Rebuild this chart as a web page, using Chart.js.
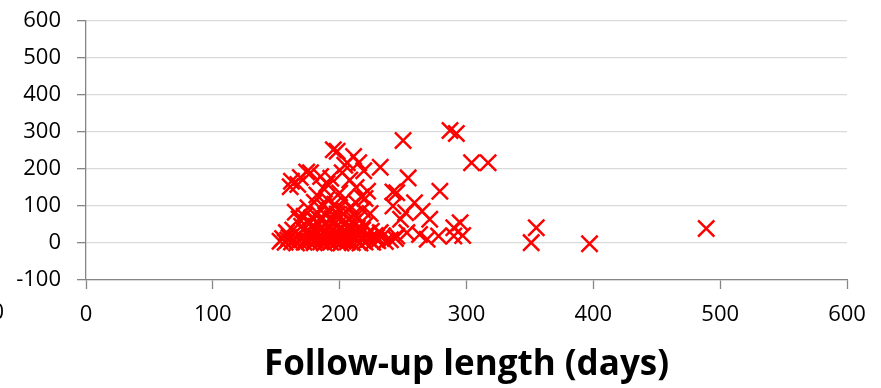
<!DOCTYPE html>
<html>
<head>
<meta charset="utf-8">
<script src="https://cdn.jsdelivr.net/npm/chart.js@4.4.1/dist/chart.umd.min.js"></script>
<style>
  html, body { margin: 0; padding: 0; background: #ffffff; }
  #wrap { width: 881px; height: 388px; position: relative; }
</style>
</head>
<body>
<div id="wrap"><canvas id="c" width="881" height="388"></canvas></div>
<script>
// Follow-up length (days) vs value
const followUpDays = [
  // near baseline
  153,155,157,159,160,162,164,166,168,170,172,174,176,178,180,181,183,185,186,188,190,191,193,195,196,198,200,201,203,205,206,208,210,212,214,216,218,220,223,226,230,236,240,244,
  // 20-60
  158,163,167,170,173,176,178,180,182,184,186,188,189,191,192,194,195,197,198,200,201,203,204,206,207,209,211,212,214,216,218,220,222,225,228,232,
  // 60-120
  165,168,172,175,178,180,183,185,187,189,190,192,194,196,198,199,201,203,205,207,209,211,213,215,218,220,224,
  // 120-260
  161,162,167,169,174,177,185,182,188,190,193,195,198,200,202,204,206,208,211,213,215,217,219,222,232,242,245,
  // right group
  250,287,292,304,317,279,254,259,265,252,295,290,271,278,290,263,269,253,245,234,229,248,242,297,
  // far right
  355,351,397,489
];
const outcomeValues = [
  5,12,2,8,15,3,10,0,6,14,2,9,4,12,1,7,15,3,10,0,6,13,2,8,16,4,11,0,7,14,3,9,1,12,5,0,8,3,10,2,6,4,9,12,
  28,35,22,45,30,52,25,38,58,20,42,30,55,24,40,33,60,27,46,36,22,50,30,44,25,38,55,28,40,22,35,48,26,32,20,28,
  83,65,72,95,68,110,80,62,100,75,118,88,66,105,78,92,70,115,85,64,98,76,108,68,90,120,80,
  152,167,158,177,192,190,180,130,145,160,175,252,248,135,190,210,217,170,234,150,217,125,195,140,205,138,136,
  277,304,296,217,217,140,176,109,86,82,55,41,64,19,19,23,10,28,19,19,15,64,100,20,
  41,1,-2,39
];
const xTicks = [0,100,200,300,400,500,600];
const yTicks = [-100,0,100,200,300,400,500,600];

const points = followUpDays.map((d, i) => ({ x: d, y: outcomeValues[i] }));

const tickFont = { family: "'Open Sans', sans-serif", size: 22 };

const edgeText = {
  id: 'edgeText',
  afterDraw(chart) {
    const ctx = chart.ctx;
    ctx.save();
    ctx.font = "22px 'Open Sans', sans-serif";
    ctx.fillStyle = '#000';
    ctx.textAlign = 'right';
    ctx.textBaseline = 'middle';
    ctx.fillText('0', 4, 313);
    ctx.restore();
  }
};

new Chart(document.getElementById('c'), {
  type: 'scatter',
  data: {
    datasets: [{
      data: points,
      pointStyle: 'crossRot',
      pointRadius: 11.5,
      pointHoverRadius: 11.5,
      borderColor: '#ff0000',
      backgroundColor: '#ff0000',
      pointBorderWidth: 2.5
    }]
  },
  plugins: [edgeText],
  options: {
    responsive: false,
    animation: false,
    devicePixelRatio: 1,
    layout: { padding: { left: 0, right: 34, top: 21, bottom: 0 } },
    plugins: { legend: { display: false }, tooltip: { enabled: false } },
    scales: {
      x: {
        type: 'linear',
        min: 0, max: 600,
        afterBuildTicks: s => { s.ticks = xTicks.map(v => ({ value: v })); },
        afterFit: s => { s.height = 108; s.paddingLeft = 0; s.paddingRight = 0; },
        grid: { drawOnChartArea: false, drawTicks: true, tickLength: 9, tickColor: '#868686', tickWidth: 1.3 },
        border: { color: '#868686', width: 1.3 },
        ticks: { font: tickFont, color: '#000', padding: 13, maxRotation: 0 },
        title: {
          display: true,
          text: 'Follow-up length (days)',
          font: { family: "'Open Sans', sans-serif", size: 35, weight: 'bold', lineHeight: 1.05 },
          color: '#000',
          padding: { top: 4, bottom: 5 }
        }
      },
      y: {
        type: 'linear',
        min: -100, max: 600,
        afterBuildTicks: s => { s.ticks = yTicks.map(v => ({ value: v })); },
        afterFit: s => { s.width = 86; s.paddingTop = 0; s.paddingBottom = 0; },
        grid: { color: '#d9d9d9', lineWidth: 1.3, drawTicks: true, tickLength: 9, tickColor: '#868686', tickWidth: 1.3 },
        border: { color: '#868686', width: 1.3 },
        ticks: { font: tickFont, color: '#000', padding: 16 }
      }
    }
  }
});
</script>
</body>
</html>
